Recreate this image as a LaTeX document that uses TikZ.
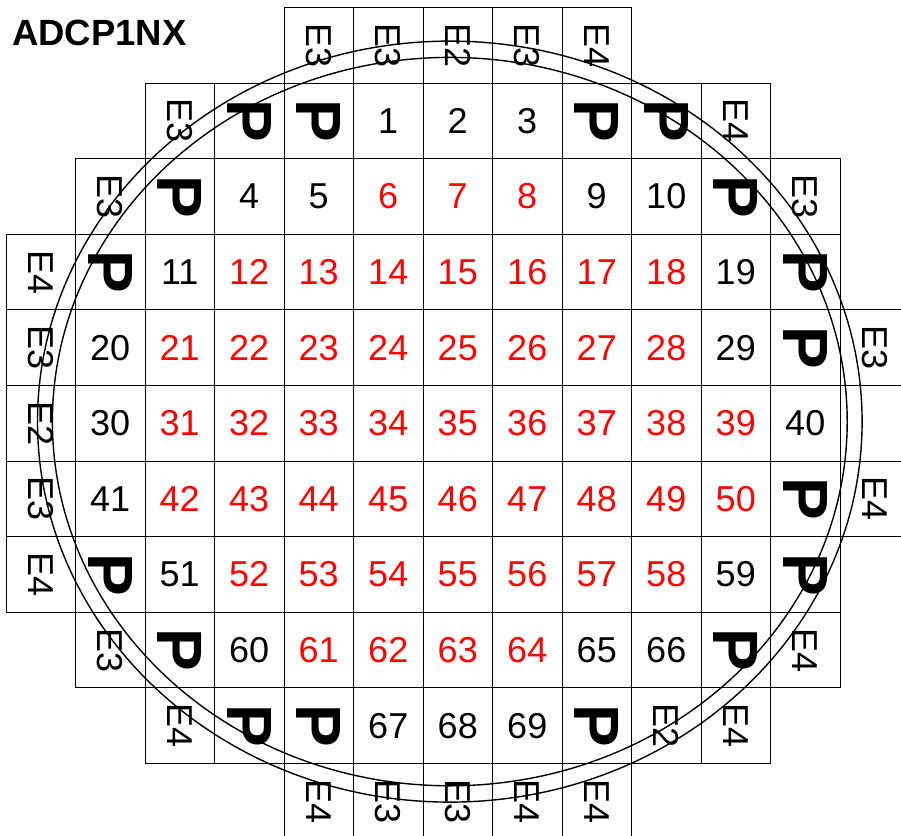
\documentclass[tikz,border=0pt]{standalone}
\usepackage{fontspec}
\setmainfont{Liberation Sans}
\usetikzlibrary{positioning}
\definecolor{failred}{HTML}{FF0000}

\begin{document}
\begin{tikzpicture}[x=1pt,y=-1pt,
 cell/.style={draw,line width=0.9pt,inner sep=0pt,minimum width=69.5pt,
 minimum height=75.6pt,font=\fontsize{36}{36}\selectfont},
 die/.style={cell},
 fail/.style={cell,text=failred},
 rim/.style={cell,rotate=-90,minimum width=75.6pt,minimum height=69.5pt},
 pmark/.style={rim,font=\bfseries\fontsize{64}{64}\selectfont},
 wafer/.style={line width=1.4pt}]
\clip (0,0) rectangle (901,835);
\node[anchor=base west,inner sep=0pt,font=\bfseries\fontsize{36.5}{36.5}\selectfont]
 (title) at (12,45) {ADCP1NX};
% rows of the map: row / first column / cells
\foreach \r/\s/\cells in {
 0/4/{rim/E3,rim/E3,rim/E2,rim/E3,rim/E4},
 1/2/{rim/E3,pmark/P,pmark/P,die/1,die/2,die/3,pmark/P,pmark/P,rim/E4},
 2/1/{rim/E3,pmark/P,die/4,die/5,fail/6,fail/7,fail/8,die/9,die/10,pmark/P,rim/E3},
 3/0/{rim/E4,pmark/P,die/11,fail/12,fail/13,fail/14,fail/15,fail/16,fail/17,fail/18,die/19,pmark/P},
 4/0/{rim/E3,die/20,fail/21,fail/22,fail/23,fail/24,fail/25,fail/26,fail/27,fail/28,die/29,pmark/P,rim/E3},
 5/0/{rim/E2,die/30,fail/31,fail/32,fail/33,fail/34,fail/35,fail/36,fail/37,fail/38,fail/39,die/40,die/{}},
 6/0/{rim/E3,die/41,fail/42,fail/43,fail/44,fail/45,fail/46,fail/47,fail/48,fail/49,fail/50,pmark/P,rim/E4},
 7/0/{rim/E4,pmark/P,die/51,fail/52,fail/53,fail/54,fail/55,fail/56,fail/57,fail/58,die/59,pmark/P},
 8/1/{rim/E3,pmark/P,die/60,fail/61,fail/62,fail/63,fail/64,die/65,die/66,pmark/P,rim/E4},
 9/2/{rim/E4,pmark/P,pmark/P,die/67,die/68,die/69,pmark/P,rim/E2,rim/E4},
 10/4/{rim/E4,rim/E3,rim/E3,rim/E4,rim/E4}} {
 \foreach \t/\lab [count=\k from \s] in \cells {
  \node[\t] (c\r-\k) at ({6+69.5*(\k+0.5)},{7.5+75.6*(\r+0.5)}) {\lab};
 }
}
\coordinate (centre) at (449.8,421.6);
\draw[wafer] (centre) ellipse [x radius=412.3pt,y radius=380.5pt];
\draw[wafer] (centre) ellipse [x radius=397.4pt,y radius=364.2pt];
\end{tikzpicture}
\end{document}
